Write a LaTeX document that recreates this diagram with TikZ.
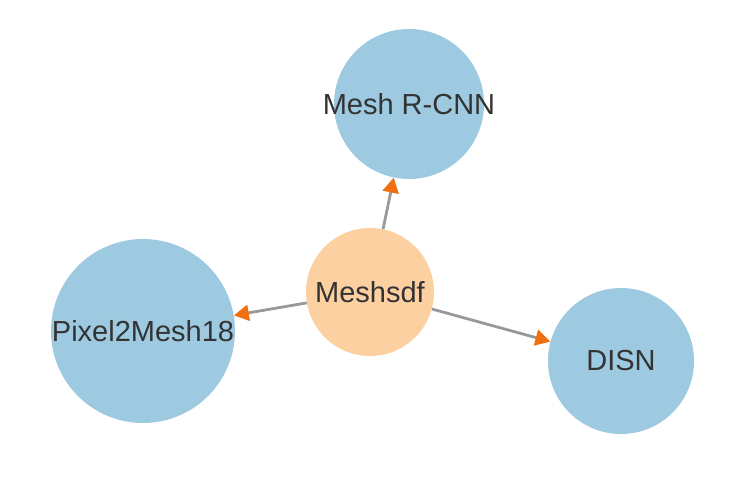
\documentclass[tikz,border=0pt]{standalone}
\usepackage{fontspec}
\setmainfont{Liberation Sans}
\usetikzlibrary{arrows.meta}
\definecolor{nodeblue}{HTML}{9ECAE1}
\definecolor{nodeorange}{HTML}{FDD0A2}
\definecolor{arrorange}{HTML}{F0700F}
\definecolor{edgegray}{HTML}{999999}
\definecolor{txt}{HTML}{333333}
\newcommand{\zw}[1]{\makebox[0pt][c]{#1}}
\begin{document}
\begin{tikzpicture}[x=1pt,y=-1pt,
  nd/.style={circle,inner sep=0pt,text=txt,font=\fontsize{29}{34}\selectfont},
  blue/.style={nd,fill=nodeblue},
  src/.style={nd,fill=nodeorange},
  edge/.style={draw=edgegray,line width=2.8pt,-{Triangle[length=15pt,width=16pt,color=arrorange]}}]
\useasboundingbox (0,0) rectangle (742,482);
\node[blue,minimum size=150pt] (rcnn) at (409,104) {\zw{Mesh R-CNN}};
\node[src,minimum size=128pt] (sdf) at (370,292) {\zw{Meshsdf}};
\node[blue,minimum size=184pt] (p2m) at (143,331) {\zw{Pixel2Mesh18}};
\node[blue,minimum size=146pt] (disn) at (621,361) {\zw{DISN}};
\draw[edge] (sdf) -- (rcnn);
\draw[edge] (sdf) -- (p2m);
\draw[edge] (sdf) -- (disn);
\end{tikzpicture}
\end{document}
